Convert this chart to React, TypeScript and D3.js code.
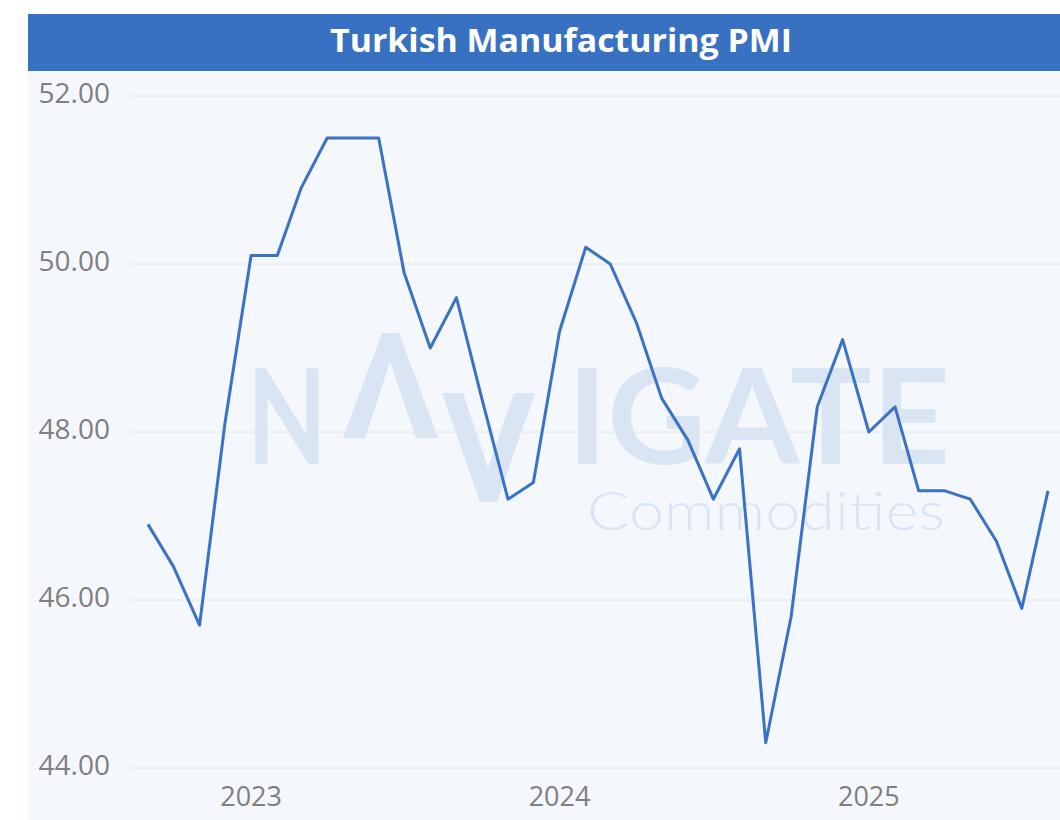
import React, { useRef, useEffect } from 'react';
import * as d3 from 'd3';

// Monthly readings, Sep 2022 .. Aug 2025
const months = [
  '2022-09', '2022-10', '2022-11', '2022-12',
  '2023-01', '2023-02', '2023-03', '2023-04', '2023-05', '2023-06',
  '2023-07', '2023-08', '2023-09', '2023-10', '2023-11', '2023-12',
  '2024-01', '2024-02', '2024-03', '2024-04', '2024-05', '2024-06',
  '2024-07', '2024-08', '2024-09', '2024-10', '2024-11', '2024-12',
  '2025-01', '2025-02', '2025-03', '2025-04', '2025-05', '2025-06',
  '2025-07', '2025-08',
];
const pmi = [
  46.9, 46.4, 45.7, 48.1,
  50.1, 50.1, 50.9, 51.5, 51.5, 51.5,
  49.9, 49.0, 49.6, 48.4, 47.2, 47.4,
  49.2, 50.2, 50.0, 49.3, 48.4, 47.9,
  47.2, 47.8, 44.3, 45.8, 48.3, 49.1,
  48.0, 48.3, 47.3, 47.3, 47.2, 46.7,
  45.9, 47.3,
];
const yTicks = [44, 46, 48, 50, 52];
const yearTicks = ['2023', '2024', '2025'];
const title = 'Turkish Manufacturing PMI';

const W = 1060;
const H = 820;

const App = () => {
  const svgRef = useRef<SVGSVGElement>(null);

  useEffect(() => {
    const svg = d3.select(svgRef.current).html('');
    const parse = d3.utcParse('%Y-%m');
    const dates = months.map(m => parse(m) as Date);

    // --- Frame ---
    svg.append('rect').attr('x', 28).attr('y', 14).attr('width', W - 28).attr('height', H - 14)
      .attr('fill', '#f4f7fc');
    svg.append('rect').attr('x', 28).attr('y', 14).attr('width', W - 28).attr('height', 57)
      .attr('fill', '#3871c1');
    svg.append('text')
      .attr('x', 330).attr('y', 52)
      .attr('textLength', 462).attr('lengthAdjust', 'spacingAndGlyphs')
      .style('font-family', '"Open Sans", sans-serif')
      .style('font-weight', 700)
      .style('font-size', '32px')
      .attr('fill', '#ffffff')
      .text(title);

    // --- Scales ---
    const x = d3.scaleUtc()
      .domain([dates[0], dates[dates.length - 1]])
      .range([148, 1048]);
    const y = d3.scaleLinear().domain([44, 52]).range([768, 96]);

    // --- Watermark ---
    const wm = svg.append('g').attr('fill', '#dae5f4');
    const wmFont = 'Lato, "Open Sans", sans-serif';
    wm.append('text').attr('x', 247).attr('y', 464)
      .attr('textLength', 80).attr('lengthAdjust', 'spacingAndGlyphs')
      .style('font-family', wmFont).style('font-size', '132px').style('font-weight', 700)
      .text('N');
    wm.append('path')
      .attr('d', 'M343,438 L382,333 L399,333 L438,438 L416,438 L390,362 L365,438 Z');
    wm.append('path')
      .attr('d', 'M442,393 L463,393 L488,468 L514,393 L535,393 L497,502 L480,502 Z');
    wm.append('text').attr('x', 567).attr('y', 464)
      .attr('textLength', 383).attr('lengthAdjust', 'spacingAndGlyphs')
      .style('font-family', wmFont).style('font-size', '132px').style('font-weight', 700)
      .text('IGATE');
    wm.append('text').attr('x', 587).attr('y', 530)
      .attr('textLength', 358).attr('lengthAdjust', 'spacingAndGlyphs')
      .style('font-family', wmFont).style('font-size', '54px').style('font-weight', 300)
      .text('Commodities');

    // --- Grid + y labels ---
    const grid = svg.append('g');
    grid.selectAll('line').data(yTicks).join('line')
      .attr('x1', 129).attr('x2', W)
      .attr('y1', d => y(d)).attr('y2', d => y(d))
      .attr('stroke', '#e6e6e6').attr('stroke-width', 1);
    grid.selectAll('text').data(yTicks).join('text')
      .attr('x', 110).attr('y', d => y(d))
      .attr('text-anchor', 'end')
      .attr('dominant-baseline', 'middle')
      .style('font-family', '"Open Sans", sans-serif')
      .style('font-size', '28px')
      .attr('fill', '#7f7f7f')
      .text(d => d3.format('.2f')(d));

    // --- X labels ---
    svg.append('g').selectAll('text').data(yearTicks).join('text')
      .attr('x', d => x(parse(d + '-01') as Date))
      .attr('y', 806)
      .attr('text-anchor', 'middle')
      .style('font-family', '"Open Sans", sans-serif')
      .style('font-size', '27px')
      .attr('fill', '#7f7f7f')
      .text(d => d);

    // --- Line ---
    const line = d3.line<number>()
      .x((d, i) => x(dates[i]))
      .y(d => y(d));
    svg.append('path')
      .datum(pmi)
      .attr('fill', 'none')
      .attr('stroke', '#3a72c4')
      .attr('stroke-width', 3)
      .attr('stroke-linejoin', 'round')
      .attr('d', line);
  }, []);

  return (
    <svg ref={svgRef} width={W} height={H}
      style={{ position: 'absolute', left: 0, top: 0, background: '#ffffff' }} />
  );
};

export default App;
